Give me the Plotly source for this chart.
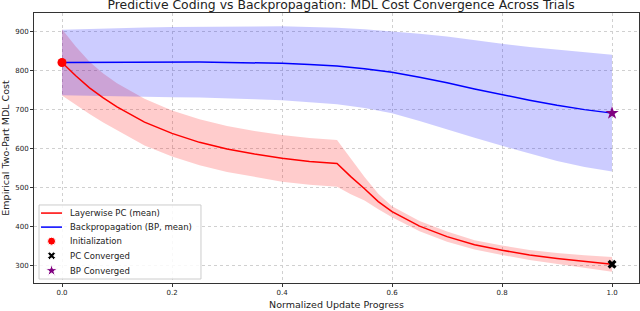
import plotly.graph_objects as go

# ---- data ----
pc_t = [0, 0.025, 0.05, 0.075, 0.1, 0.15, 0.2, 0.25, 0.3, 0.35, 0.4, 0.45, 0.5,
        0.525, 0.55, 0.575, 0.6, 0.65, 0.7, 0.75, 0.8, 0.85, 0.9, 0.95, 1.0]
pc_mean = [820, 786, 755, 729, 706, 667, 638, 615, 598, 585, 574, 566, 561,
           527, 496, 463, 437, 400, 373, 352, 338, 326, 317, 309, 302]
pc_std = [85, 75, 67, 63, 61, 60, 59, 59, 59, 59, 60, 60, 60,
          45, 30, 20, 14, 13, 13, 12, 12, 13, 14, 16, 19]

bp_t = [0, 0.05, 0.1, 0.15, 0.2, 0.25, 0.3, 0.35, 0.4, 0.45, 0.5,
        0.55, 0.6, 0.65, 0.7, 0.75, 0.8, 0.85, 0.9, 0.95, 1.0]
bp_mean = [820, 820.5, 821, 821, 821, 821, 820, 819, 818, 815, 811,
           804, 795, 782, 768, 752, 737, 723, 710, 699, 690]
bp_std = [84, 86, 88, 89, 90, 91, 92, 93.5, 95, 96.5, 98,
          101, 105, 112, 119, 125, 131, 137, 143, 147, 150]

init_point = (0.0, 820)
pc_final = (1.0, 302)
bp_final = (1.0, 690)

title = "Predictive Coding vs Backpropagation: MDL Cost Convergence Across Trials"
x_label = "Normalized Update Progress"
y_label = "Empirical Two-Part MDL Cost"
x_ticks = [0.0, 0.2, 0.4, 0.6, 0.8, 1.0]
y_ticks = [300, 400, 500, 600, 700, 800, 900]

legend_labels = ["Layerwise PC (mean)", "Backpropagation (BP, mean)",
                 "Initialization", "PC Converged", "BP Converged"]

pc_up = [m + s for m, s in zip(pc_mean, pc_std)]
pc_lo = [m - s for m, s in zip(pc_mean, pc_std)]
bp_up = [m + s for m, s in zip(bp_mean, bp_std)]
bp_lo = [m - s for m, s in zip(bp_mean, bp_std)]

FONT = "DejaVu Sans"
fig = go.Figure()

# bands
fig.add_trace(go.Scatter(x=pc_t + pc_t[::-1], y=pc_up + pc_lo[::-1], fill="toself",
                         fillcolor="rgba(255,0,0,0.2)", line=dict(width=0),
                         hoverinfo="skip", showlegend=False))
fig.add_trace(go.Scatter(x=bp_t + bp_t[::-1], y=bp_up + bp_lo[::-1], fill="toself",
                         fillcolor="rgba(0,0,255,0.2)", line=dict(width=0),
                         hoverinfo="skip", showlegend=False))

# mean lines
fig.add_trace(go.Scatter(x=pc_t, y=pc_mean, mode="lines", name=legend_labels[0],
                         line=dict(color="red", width=1.5), showlegend=False))
fig.add_trace(go.Scatter(x=bp_t, y=bp_mean, mode="lines", name=legend_labels[1],
                         line=dict(color="blue", width=1.5), showlegend=False))

# markers
fig.add_trace(go.Scatter(x=[init_point[0]], y=[init_point[1]], mode="markers", name=legend_labels[2],
                         marker=dict(color="red", size=9, symbol="circle"), showlegend=False))
fig.add_trace(go.Scatter(x=[pc_final[0]], y=[pc_final[1]], mode="markers", name=legend_labels[3],
                         marker=dict(color="black", size=8, symbol="x"), showlegend=False))
fig.add_trace(go.Scatter(x=[bp_final[0]], y=[bp_final[1]], mode="markers", name=legend_labels[4],
                         marker=dict(color="purple", size=10, symbol="star"), showlegend=False))

# ---- compact matplotlib-style legend on an overlay axis (0..1 of plot area) ----
lx0, lx1, ly0, ly1 = 0.0083, 0.276, 0.0148, 0.289
fig.add_trace(go.Scatter(x=[lx0, lx1, lx1, lx0, lx0], y=[ly0, ly0, ly1, ly1, ly0],
                         mode="lines", fill="toself", fillcolor="rgba(255,255,255,0.85)",
                         line=dict(color="#cccccc", width=1), xaxis="x2", yaxis="y2",
                         hoverinfo="skip", showlegend=False))
row_y = [0.259, 0.207, 0.155, 0.101, 0.046]
sym_x0, sym_x1, sym_xc, txt_x = 0.0116, 0.0463, 0.029, 0.056
fig.add_trace(go.Scatter(x=[sym_x0, sym_x1], y=[row_y[0]] * 2, mode="lines",
                         line=dict(color="red", width=1.5), xaxis="x2", yaxis="y2",
                         hoverinfo="skip", showlegend=False))
fig.add_trace(go.Scatter(x=[sym_x0, sym_x1], y=[row_y[1]] * 2, mode="lines",
                         line=dict(color="blue", width=1.5), xaxis="x2", yaxis="y2",
                         hoverinfo="skip", showlegend=False))
fig.add_trace(go.Scatter(x=[sym_xc] * 3, y=row_y[2:], mode="markers",
                         marker=dict(color=["red", "black", "purple"], size=[8, 7, 9],
                                     symbol=["circle", "x", "star"], opacity=1),
                         xaxis="x2", yaxis="y2", hoverinfo="skip", showlegend=False))
for lab, yy in zip(legend_labels, row_y):
    fig.add_annotation(x=txt_x, y=yy, xref="x2", yref="y2", text=lab, showarrow=False,
                       xanchor="left", yanchor="middle",
                       font=dict(family=FONT, size=8.5, color="#222"))

axis_common = dict(showgrid=True, gridcolor="#d0d0d0", griddash="dot", gridwidth=0.8,
                   showline=True, linecolor="#333", linewidth=1, mirror=True,
                   ticks="outside", ticklen=3, tickcolor="#333", zeroline=False,
                   automargin=False,
                   tickfont=dict(family=FONT, size=7, color="#222"))

fig.update_xaxes(range=[-0.0509, 1.049], tickvals=x_ticks,
                 ticktext=[f"{v:.1f}" for v in x_ticks],
                 title=dict(text=x_label, font=dict(family=FONT, size=9.5, color="#222"), standoff=4),
                 **axis_common)
fig.update_yaxes(range=[254, 947], tickvals=y_ticks,
                 title=dict(text=y_label, font=dict(family=FONT, size=9.5, color="#222"), standoff=6),
                 **axis_common)

fig.update_layout(
    width=640, height=311,
    margin=dict(l=34, r=1, t=13, b=28),
    plot_bgcolor="white", paper_bgcolor="white",
    title=dict(text=title, x=0.533, xanchor="center", y=0.985, yanchor="middle",
               font=dict(family=FONT, size=12.4, color="#222")),
    xaxis2=dict(overlaying="x", anchor="y2", range=[0, 1], visible=False, fixedrange=True),
    yaxis2=dict(overlaying="y", anchor="x2", range=[0, 1], visible=False, fixedrange=True),
    showlegend=False,
)

fig.write_html("out.html", config={"displayModeBar": False},
               post_script="document.body.style.margin='0px';")
